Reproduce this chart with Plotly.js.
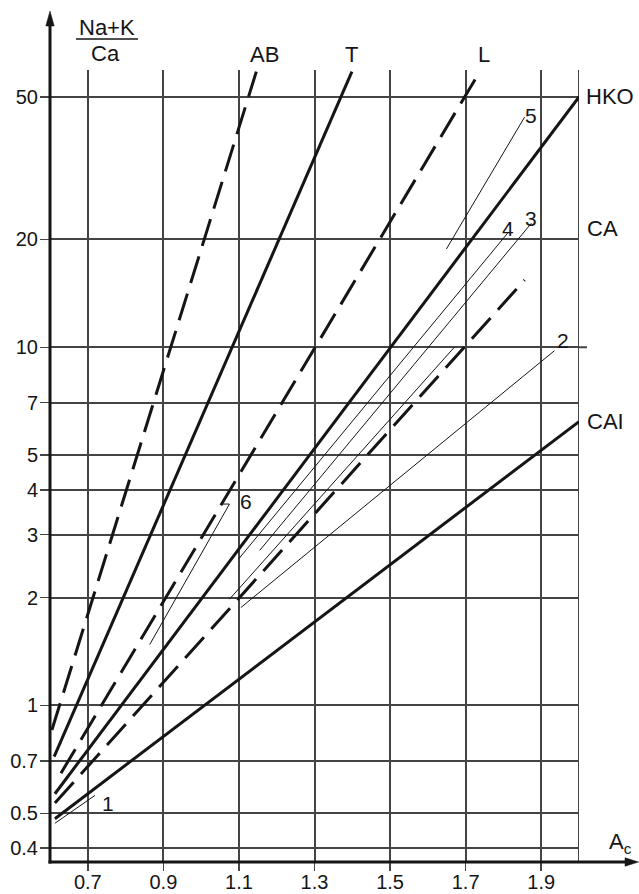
<!DOCTYPE html>
<html>
<head>
<meta charset="utf-8">
<script src="https://cdn.plot.ly/plotly-3.0.1.min.js"></script>
<style>html,body{margin:0;padding:0;background:#fff;}#chart{width:639px;height:894px;}</style>
</head>
<body>
<div id="chart"></div>
<script>
// ---- tick data ----
const xTickVals = [0.7, 0.9, 1.1, 1.3, 1.5, 1.7, 1.9];
const xTickText = ['0.7', '0.9', '1.1', '1.3', '1.5', '1.7', '1.9'];
const yTickVals = [0.4, 0.5, 0.7, 1, 2, 3, 4, 5, 7, 10, 20, 50];
const yTickText = ['0.4', '0.5', '0.7', '1', '2', '3', '4', '5', '7', '10', '20', '50'];

// ---- series (A_c vs (Na+K)/Ca), end points ----
const abX  = [0.605, 1.146];
const abY  = [0.854, 58.8];
const tX   = [0.611, 1.399];
const tY   = [0.72, 58.8];
const lX   = [0.629, 1.736];
const lY   = [0.647, 58.5];
const hkoX = [0.613, 2.0];
const hkoY = [0.567, 50];
const dX   = [0.613, 1.856];
const dY   = [0.534, 15.4];
const caiX = [0.613, 2.0];
const caiY = [0.483, 6.2];
const s1X  = [0.613, 0.719];
const s1Y  = [0.469, 0.561];
const s2X  = [1.105, 1.935];
const s2Y  = [1.876, 9.78];
const s3X  = [1.155, 1.874];
const s3Y  = [2.71, 22.2];
const s4X  = [1.1, 1.814];
const s4Y  = [2.57, 21.0];
const sCX  = [1.075, 1.67];
const sCY  = [1.98, 10];
const s5X  = [1.649, 1.856];
const s5Y  = [18.8, 43.9];
const s6X  = [0.864, 1.075, 1.054];
const s6Y  = [1.48, 3.65, 3.65];

const INK = '#151515';
const GRID = '#444444';
const GW = 2;
const DASH = '28px,11px';
const FONT = 'Liberation Sans, Arial, Helvetica, sans-serif';

function ln(x, y, width, dash) {
  return {x: x, y: y, type: 'scatter', mode: 'lines', showlegend: false, hoverinfo: 'skip',
          line: {color: INK, width: width, dash: dash || 'solid'}};
}

const data = [
  ln(abX, abY, 3, DASH),
  ln(tX, tY, 3),
  ln(lX, lY, 3, DASH),
  ln(hkoX, hkoY, 3),
  ln(dX, dY, 3, DASH),
  ln(caiX, caiY, 3),
  ln(s1X, s1Y, 1),
  ln(s2X, s2Y, 1),
  ln(s3X, s3Y, 1),
  ln(s4X, s4Y, 1),
  ln(sCX, sCY, 1),
  ln(s5X, s5Y, 1),
  ln(s6X, s6Y, 1)
];

// layout geometry (pixels -> paper)
const W = 639, H = 894, ML = 50, MR = 60, MT = 70, MB = 32;
const PW = W - ML - MR, PH = H - MT - MB;
const px = v => (v - ML) / PW;
const py = v => (H - MB - v) / PH;

function lab(text, x, y, size, anchor) {
  return {text: text, xref: 'paper', yref: 'paper', x: px(x), y: py(y), showarrow: false,
          xanchor: anchor || 'center', yanchor: 'middle',
          font: {family: FONT, size: size || 21, color: INK}};
}

const annotations = [
  lab('Na+K', 106.5, 27, 22),
  lab('Ca', 105.5, 53, 22),
  lab('AB', 264, 54, 22),
  lab('T', 351, 54, 22),
  lab('L', 484, 54, 22),
  lab('HKO', 610, 97, 22),
  lab('CA', 602, 228, 22),
  lab('CAI', 605, 421, 22),
  lab('5', 531, 116, 21),
  lab('4', 508, 228, 21),
  lab('3', 531, 218, 21),
  lab('2', 563, 340, 21),
  lab('6', 246, 502, 21),
  lab('1', 108, 803, 21),
  lab('A<sub>c</sub>', 620, 843, 22)
];

const shapes = [
  // right border at A_c = 2.0
  {type: 'line', xref: 'x', yref: 'paper', x0: 2.0, x1: 2.0, y0: 0, y1: 1, line: {color: GRID, width: GW}, layer: 'below'},
  // the 10 gridline overshoot
  {type: 'line', xref: 'paper', yref: 'y', x0: 1, x1: px(587), y0: 10, y1: 10, line: {color: GRID, width: GW}},
  // fraction bar
  {type: 'line', xref: 'paper', yref: 'paper', x0: px(76), x1: px(138), y0: py(39), y1: py(39), line: {color: INK, width: 1.3}},
  // y axis line + arrow
  {type: 'line', xref: 'paper', yref: 'paper', x0: 0, x1: 0, y0: py(H - MB + 1.5), y1: py(24), line: {color: INK, width: 3}},
  {type: 'path', xref: 'paper', yref: 'paper', fillcolor: INK, line: {color: INK, width: 0.5},
   path: 'M ' + px(50) + ' ' + py(11) + ' L ' + px(45.8) + ' ' + py(26) + ' L ' + px(54.2) + ' ' + py(26) + ' Z'},
  // x axis line + arrow
  {type: 'line', xref: 'paper', yref: 'paper', x0: px(48.5), x1: px(628), y0: 0, y1: 0, line: {color: INK, width: 3}},
  {type: 'path', xref: 'paper', yref: 'paper', fillcolor: INK, line: {color: INK, width: 0.5},
   path: 'M ' + px(638.5) + ' ' + py(H - MB) + ' L ' + px(625) + ' ' + py(H - MB - 4.3) + ' L ' + px(625) + ' ' + py(H - MB + 4.3) + ' Z'}
];

const layout = {
  width: W, height: H,
  margin: {l: ML, r: MR, t: MT, b: MB, pad: 0},
  paper_bgcolor: '#fff', plot_bgcolor: '#fff',
  showlegend: false,
  font: {family: FONT, size: 21, color: INK},
  xaxis: {
    range: [0.6, 2.0], tickmode: 'array', tickvals: xTickVals, ticktext: xTickText,
    showgrid: true, gridcolor: GRID, gridwidth: GW, zeroline: false, showline: false,
    ticks: 'outside', ticklen: 8, tickwidth: 1.5, tickcolor: GRID, ticklabelstandoff: -6,
    tickfont: {family: FONT, size: 20, color: INK}, fixedrange: true
  },
  yaxis: {
    type: 'log', range: [Math.log10(0.3656), 1.774], tickmode: 'array', tickvals: yTickVals, ticktext: yTickText,
    showgrid: true, gridcolor: GRID, gridwidth: GW, zeroline: false, showline: false,
    ticks: 'outside', ticklen: 9, tickwidth: 1.5, tickcolor: GRID, ticklabelstandoff: -2,
    tickfont: {family: FONT, size: 20, color: INK}, fixedrange: true
  },
  annotations: annotations,
  shapes: shapes
};

Plotly.newPlot('chart', data, layout, {staticPlot: true, displayModeBar: false});
</script>
</body>
</html>
